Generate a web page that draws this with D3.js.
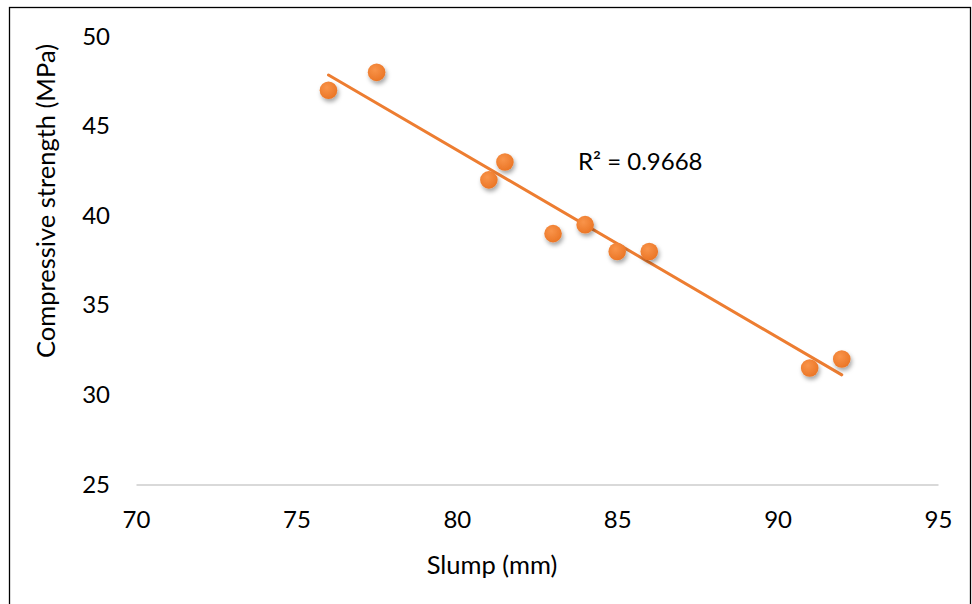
<!DOCTYPE html>
<html>
<head>
<meta charset="utf-8">
<script src="https://cdn.jsdelivr.net/npm/d3@7"></script>
<style>
html,body{margin:0;padding:0;background:#fff;}
svg{display:block;}
text{font-family:Lato,"Open Sans",sans-serif;fill:#000;}
</style>
</head>
<body>
<svg id="chart" width="972" height="604"></svg>
<script>
const slump = [76, 77.5, 81, 81.5, 83, 84, 85, 86, 91, 92];
const strength = [47, 48, 42, 43, 39, 39.5, 38, 38, 31.5, 32];
const xTicks = [70, 75, 80, 85, 90, 95];
const yTicks = [25, 30, 35, 40, 45, 50];
const xTitle = "Slump (mm)";
const yTitle = "Compressive strength (MPa)";
const r2Label = "R² = 0.9668";

const svg = d3.select("#chart");

// outer border
svg.append("rect").attr("x", 9.5).attr("y", 7.5).attr("width", 961).attr("height", 610)
  .attr("fill", "#fff").attr("stroke", "#000").attr("stroke-width", 1.3);

const x = d3.scaleLinear().domain([70, 95]).range([136, 938]);
const y = d3.scaleLinear().domain([25, 50]).range([484.5, 36.5]);

const defs = svg.append("defs");
const grad = defs.append("radialGradient").attr("id", "mk").attr("cx", "40%").attr("cy", "35%").attr("r", "70%");
grad.append("stop").attr("offset", "0%").attr("stop-color", "#F9944A");
grad.append("stop").attr("offset", "100%").attr("stop-color", "#EA7424");
const f = defs.append("filter").attr("id", "sh").attr("x", "-60%").attr("y", "-60%").attr("width", "220%").attr("height", "220%");
f.append("feDropShadow").attr("dx", 1.5).attr("dy", 3).attr("stdDeviation", 2.2)
  .attr("flood-color", "#000").attr("flood-opacity", 0.35);

// x axis line
const xAxis = d3.axisBottom(x).tickValues(xTicks).tickSize(0).tickPadding(26).tickFormat(d3.format("d"));
const gx = svg.append("g").attr("transform", `translate(0,${y(25)})`).call(xAxis);
gx.select(".domain").attr("stroke", "#D9D9D9").attr("stroke-width", 1.8);
gx.selectAll("text").attr("font-size", 24).attr("font-family", "Lato").attr("fill", "#000");

// y axis labels (no line)
const yAxis = d3.axisLeft(y).tickValues(yTicks).tickSize(0).tickPadding(26).tickFormat(d3.format("d"));
const gy = svg.append("g").attr("transform", `translate(136,0)`).call(yAxis);
gy.select(".domain").remove();
gy.selectAll("text").attr("font-size", 24).attr("font-family", "Lato").attr("fill", "#000");

// trendline (least squares)
const n = slump.length;
const mx = d3.mean(slump), my = d3.mean(strength);
let sxy = 0, sxx = 0;
for (let i = 0; i < n; i++) { sxy += (slump[i]-mx)*(strength[i]-my); sxx += (slump[i]-mx)**2; }
const b = sxy / sxx, a = my - b * mx;
const x0 = d3.min(slump), x1 = d3.max(slump);
svg.append("line")
  .attr("x1", x(x0)).attr("y1", y(a + b*x0))
  .attr("x2", x(x1)).attr("y2", y(a + b*x1))
  .attr("stroke", "#ED7D31").attr("stroke-width", 3).attr("stroke-linecap", "round");

// points
svg.append("g").selectAll("circle").data(slump.map((s, i) => [s, strength[i]])).join("circle")
  .attr("cx", d => x(d[0])).attr("cy", d => y(d[1])).attr("r", 8.8)
  .attr("fill", "url(#mk)").attr("filter", "url(#sh)");

// R² label
svg.append("text").attr("x", 578).attr("y", 170).attr("font-size", 24).text(r2Label);

// titles
svg.append("text").attr("x", 492).attr("y", 574).attr("text-anchor", "middle")
  .attr("font-size", 25.5).text(xTitle);
svg.append("text").attr("transform", `translate(55,201) rotate(-90)`).attr("text-anchor", "middle")
  .attr("font-size", 25.5).text(yTitle);
</script>
</body>
</html>
